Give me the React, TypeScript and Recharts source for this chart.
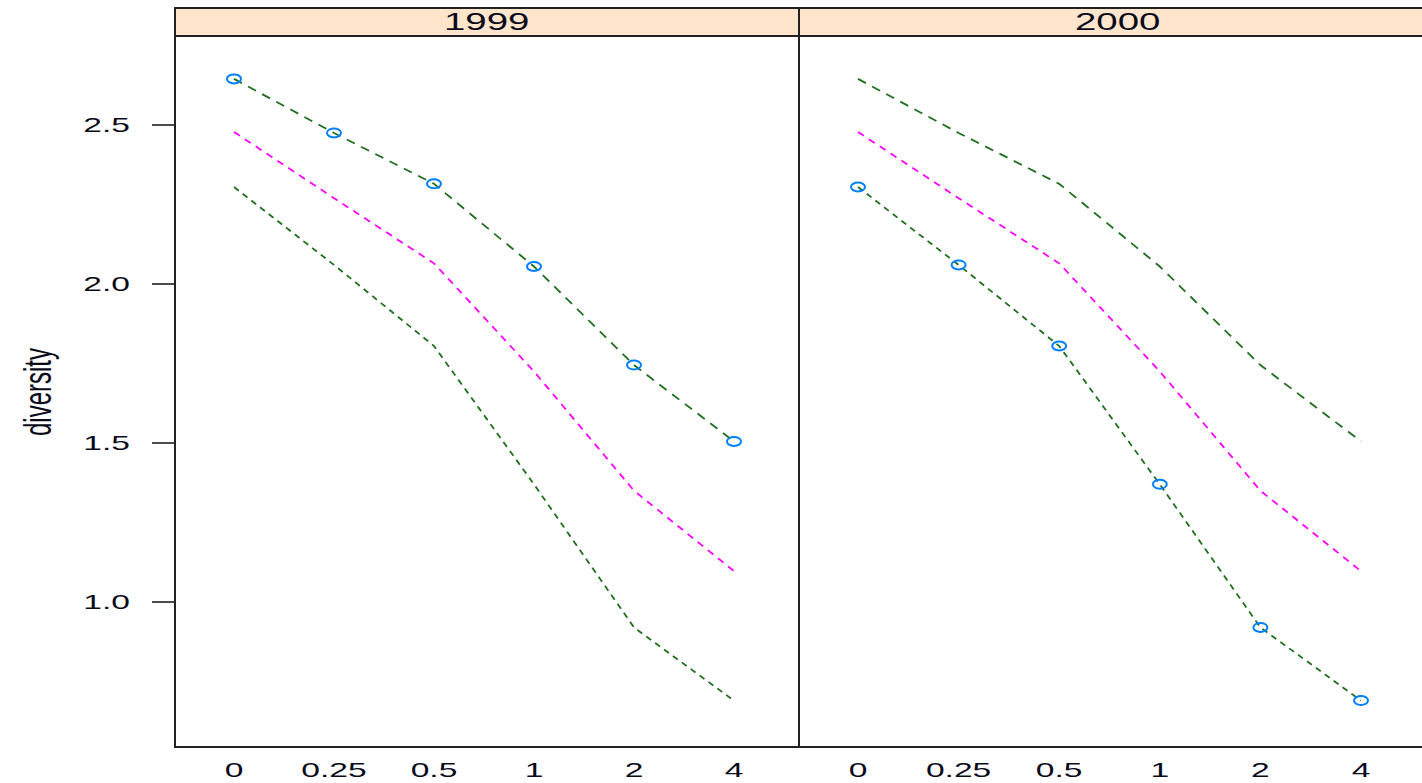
import React from "react";
import { LineChart, Line, XAxis, YAxis } from "recharts";

const doses = ["0", "0.25", "0.5", "1", "2", "4"];
const fit1999 = [2.645, 2.475, 2.315, 2.055, 1.745, 1.505];
const fit2000 = [2.305, 2.06, 1.805, 1.37, 0.92, 0.69];
const meanFit = [2.478, 2.27, 2.065, 1.725, 1.35, 1.097];
const years = ["1999", "2000"];
const yTicks = [1.0, 1.5, 2.0, 2.5];

const data = doses.map((d, i) => ({
  dose: d,
  upper: fit1999[i],
  mean: meanFit[i],
  lower: fit2000[i],
}));

const FONT = "'Liberation Sans', Arial, sans-serif";
const STRETCH = 1.6;
const GREEN = "#1f6f1f";
const BORDER = "#222";
const INK = "#0a0a1a";

const yDomain: [number, number] = [0.5503, 2.7767];

const XTick = ({ x, y, payload }: any) => (
  <g transform={`translate(${x},${y + 25})`}>
    <text
      transform={`scale(${STRETCH},1)`}
      textAnchor="middle"
      dy="0.35em"
      fontSize={21}
      fontFamily={FONT}
      fill={INK}
    >
      {payload.value}
    </text>
  </g>
);

const YTick = ({ x, y, payload }: any) => (
  <g transform={`translate(${x},${y})`}>
    <text
      transform={`scale(${STRETCH},1)`}
      textAnchor="end"
      dy="0.35em"
      fontSize={21}
      fontFamily={FONT}
      fill={INK}
    >
      {payload.value.toFixed(1)}
    </text>
  </g>
);

const Ring = ({ cx, cy }: any) => (
  <ellipse
    cx={cx}
    cy={cy}
    rx={7}
    ry={4.5}
    fill="none"
    stroke="#0080ff"
    strokeWidth={2}
  />
);

const Panel = ({ withPoints }: { withPoints: "upper" | "lower" }) => (
  <>
    <Line
      dataKey="upper"
      stroke={GREEN}
      strokeWidth={1.8}
      strokeDasharray="9 7"
      dot={false}
      isAnimationActive={false}
    />
    <Line
      dataKey="mean"
      stroke="#ff00ff"
      strokeWidth={1.8}
      strokeDasharray="7 6"
      dot={false}
      isAnimationActive={false}
    />
    <Line
      dataKey="lower"
      stroke={GREEN}
      strokeWidth={1.8}
      strokeDasharray="6 5"
      dot={false}
      isAnimationActive={false}
    />
    <Line
      dataKey={withPoints}
      stroke="none"
      dot={<Ring />}
      isAnimationActive={false}
    />
  </>
);

const App = () => {
  const chartMargin = { top: 37, right: 0, bottom: 8, left: 0 };
  return (
    <div
      style={{
        position: "absolute",
        left: 0,
        top: 0,
        width: 1422,
        height: 783,
        background: "#fff",
        overflow: "hidden",
      }}
    >
      <div style={{ position: "absolute", left: 0, top: 0 }}>
        <LineChart width={798} height={783} data={data} margin={chartMargin}>
          <XAxis
            dataKey="dose"
            height={30}
            padding={{ left: 59, right: 64 }}
            tickLine={false}
            axisLine={false}
            tickSize={0}
            tickMargin={0}
            tick={<XTick />}
            interval={0}
          />
          <YAxis
            width={175}
            domain={yDomain}
            ticks={yTicks}
            tickSize={23}
            tickMargin={22}
            axisLine={false}
            tickLine={{ stroke: "#111", strokeWidth: 1.5 }}
            tick={<YTick />}
          />
          {Panel({ withPoints: "upper" })}
          <text
            transform={`translate(38,392) rotate(-90) scale(1,${STRETCH})`}
            textAnchor="middle"
            dy="0.35em"
            fontSize={24}
            fontFamily={FONT}
            fill={INK}
          >
            diversity
          </text>
        </LineChart>
      </div>
      <div style={{ position: "absolute", left: 799, top: 0 }}>
        <LineChart width={623} height={783} data={data} margin={chartMargin}>
          <XAxis
            dataKey="dose"
            height={30}
            padding={{ left: 59, right: 61 }}
            tickLine={false}
            axisLine={false}
            tickSize={0}
            tickMargin={0}
            tick={<XTick />}
            interval={0}
          />
          <YAxis hide domain={yDomain} ticks={yTicks} />
          {Panel({ withPoints: "lower" })}
        </LineChart>
      </div>
      {years.map((yr, i) => (
        <div
          key={yr}
          style={{
            position: "absolute",
            left: i === 0 ? 174 : 798,
            top: 7,
            width: i === 0 ? 626 : 640,
            height: 30,
            boxSizing: "border-box",
            background: "#ffe5cc",
            border: `2px solid ${BORDER}`,
            display: "flex",
            alignItems: "center",
            justifyContent: "center",
            fontFamily: FONT,
            fontSize: 24,
            color: INK,
          }}
        >
          <span style={{ display: "inline-block", transform: `scaleX(${STRETCH})` }}>
            {yr}
          </span>
        </div>
      ))}
      <div
        style={{
          position: "absolute",
          left: 174,
          top: 35,
          width: 626,
          height: 713,
          boxSizing: "border-box",
          border: `2px solid ${BORDER}`,
          pointerEvents: "none",
        }}
      />
      <div
        style={{
          position: "absolute",
          left: 798,
          top: 35,
          width: 640,
          height: 713,
          boxSizing: "border-box",
          border: `2px solid ${BORDER}`,
          pointerEvents: "none",
        }}
      />
    </div>
  );
};

export default App;
